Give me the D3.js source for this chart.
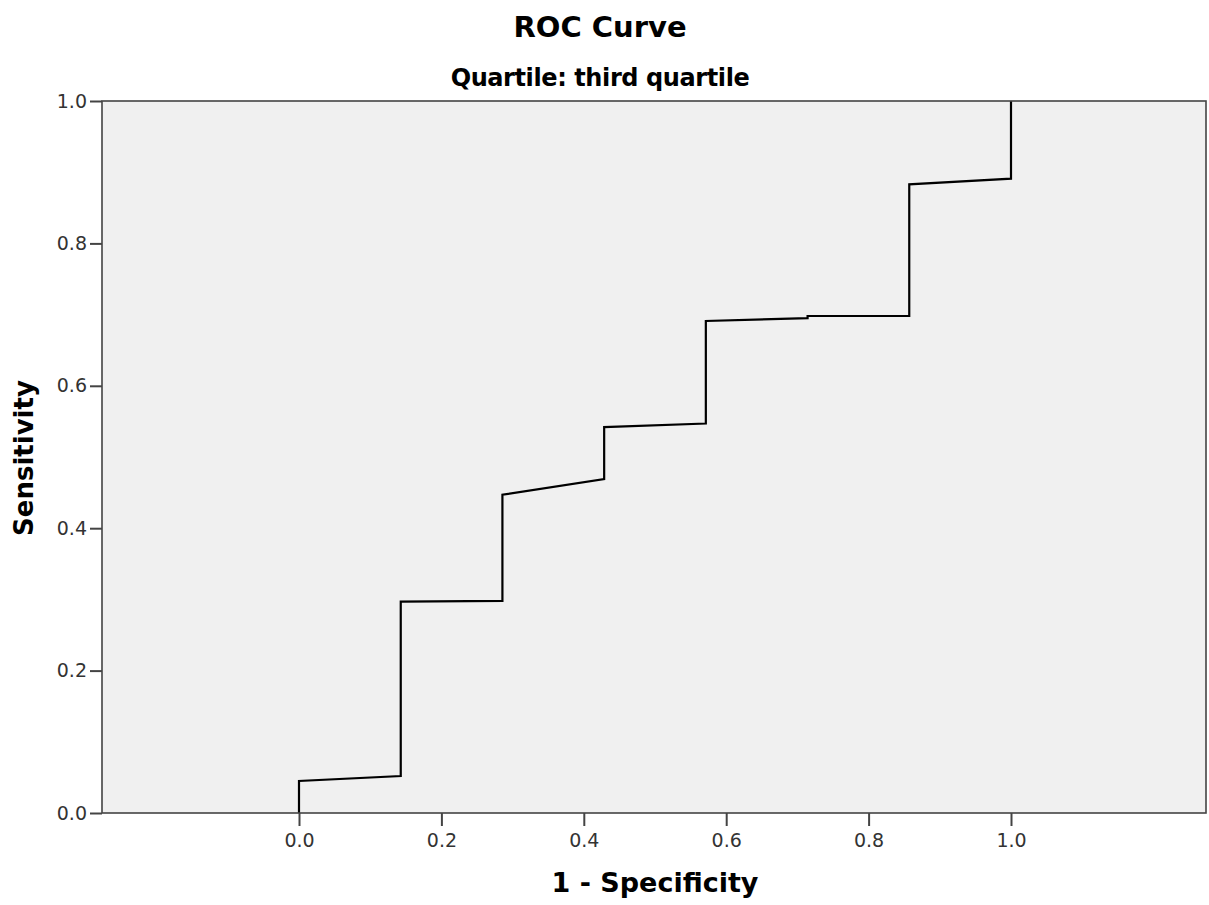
<!DOCTYPE html>
<html><head><meta charset="utf-8">
<script src="https://cdn.jsdelivr.net/npm/d3@7"></script>
<style>body{margin:0;background:#fff;}</style>
</head><body>
<script>
const title = "ROC Curve";
const subtitle = "Quartile: third quartile";
const xLabel = "1 - Specificity";
const yLabel = "Sensitivity";
const fpr = [0, 0, 0.1429, 0.1429, 0.2857, 0.2857, 0.4286, 0.4286, 0.5714, 0.5714, 0.7143, 0.7143, 0.8571, 0.8571, 1.0, 1.0];
const tpr = [0, 0.045, 0.052, 0.297, 0.298, 0.447, 0.469, 0.542, 0.547, 0.691, 0.695, 0.698, 0.698, 0.883, 0.891, 1.0];
const xTicks = [0, 0.2, 0.4, 0.6, 0.8, 1.0];
const yTicks = [0, 0.2, 0.4, 0.6, 0.8, 1.0];

(function () {
const W = 1209, H = 905;
const svg = d3.select("body").append("svg").attr("width", W).attr("height", H);
const x0 = 299, x1 = 1011;
const pxPerUnit = x1 - x0;
const pL = 102, pR = 1206, pT = 101, pB = 813;
const x = d3.scaleLinear().domain([(pL - x0) / pxPerUnit, (pR - x0) / pxPerUnit]).range([pL, pR]);
const y = d3.scaleLinear().domain([0, 1]).range([pB, pT]);

svg.append("rect").attr("x", pL).attr("y", pT).attr("width", pR - pL).attr("height", pB - pT)
  .attr("fill", "#f0f0f0").attr("stroke", "none");

const pts = fpr.map((v, i) => [v, tpr[i]]);
svg.append("path").datum(pts)
  .attr("d", d3.line().x(d => x(d[0])).y(d => y(d[1])))
  .attr("fill", "none").attr("stroke", "#000").attr("stroke-width", 2.2).attr("stroke-linejoin", "miter");

svg.append("rect").attr("x", pL).attr("y", pT).attr("width", pR - pL).attr("height", pB - pT)
  .attr("fill", "none").attr("stroke", "#444").attr("stroke-width", 1.6);

const fmt = d3.format(".1f");
const xAxis = svg.append("g").attr("transform", `translate(0,${pB})`)
  .call(d3.axisBottom(x).tickValues(xTicks).tickFormat(fmt).tickSize(13).tickPadding(8));
xAxis.select(".domain").remove();
const yAxis = svg.append("g").attr("transform", `translate(${pL},0)`)
  .call(d3.axisLeft(y).tickValues(yTicks).tickFormat(fmt).tickSize(12).tickPadding(3));
yAxis.select(".domain").remove();
svg.selectAll(".tick line").attr("stroke", "#444").attr("stroke-width", 2);
svg.selectAll(".tick text").attr("fill", "#333").style("font-family", "DejaVu Sans, sans-serif").style("font-size", "19px");

svg.append("text").attr("x", 600).attr("y", 37).attr("text-anchor", "middle")
  .style("font-family", "DejaVu Sans, sans-serif").style("font-weight", "bold").style("font-size", "29px").text(title);
svg.append("text").attr("x", 600).attr("y", 86).attr("text-anchor", "middle")
  .style("font-family", "DejaVu Sans, sans-serif").style("font-weight", "bold").style("font-size", "24px")
  .style("letter-spacing", "-0.4px").text(subtitle);
svg.append("text").attr("x", 655).attr("y", 892).attr("text-anchor", "middle")
  .style("font-family", "DejaVu Sans, sans-serif").style("font-weight", "bold").style("font-size", "27px").text(xLabel);
svg.append("text").attr("transform", `translate(33,458) rotate(-90)`).attr("text-anchor", "middle")
  .style("font-family", "DejaVu Sans, sans-serif").style("font-weight", "bold").style("font-size", "26px").text(yLabel);
})();
</script>
</body></html>
